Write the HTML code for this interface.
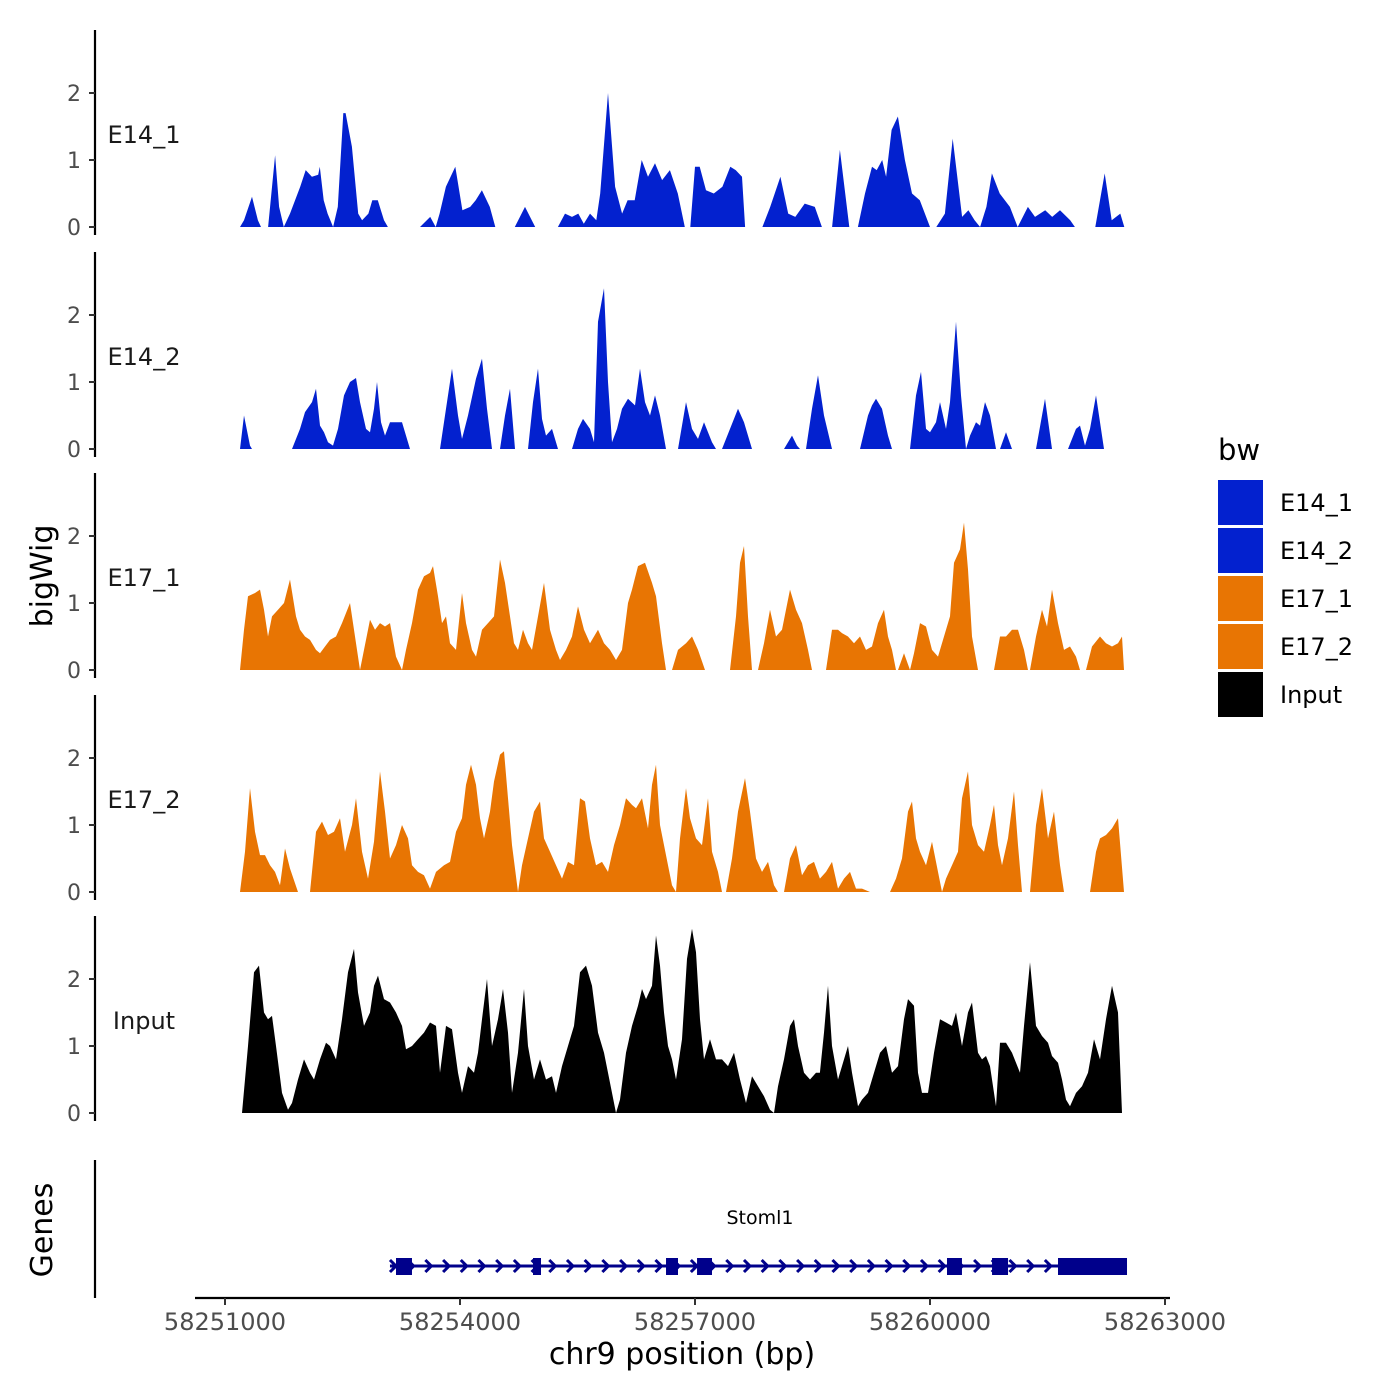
<!DOCTYPE html>
<html><head><meta charset="utf-8"><style>
html,body{margin:0;padding:0;background:#fff;}
svg{display:block;font-family:"DejaVu Sans","Liberation Sans",sans-serif;}
</style></head><body>
<svg id="chart" width="1400" height="1400" viewBox="0 0 1400 1400" xmlns="http://www.w3.org/2000/svg"></svg>
<script>
const chromStart = 58251000;
const xTicks = [58251000, 58254000, 58257000, 58260000, 58263000];
const yTicks = [0, 1, 2];
const trackNames = ["E14_1", "E14_2", "E17_1", "E17_2", "Input"];
const trackGroup = ["E14", "E14", "E17", "E17", "Input"];

const e14_1Pos = [191,243,345,420,460,550,640,690,750,830,960,1030,1110,1190,1210,1260,1310,1380,1440,1510,1540,1620,1700,1750,1830,1880,1950,2030,2080,2490,2620,2690,2740,2820,2940,3030,3130,3200,3280,3380,3450,3700,3830,3960,4250,4340,4430,4510,4580,4660,4740,4790,4890,4980,5070,5140,5230,5320,5400,5490,5580,5680,5780,5870,5940,6000,6060,6140,6240,6350,6450,6520,6600,6640,6860,6960,7090,7190,7280,7400,7530,7620,7750,7850,7970,8080,8170,8260,8320,8390,8440,8510,8590,8680,8770,8870,9000,9080,9190,9290,9410,9490,9570,9640,9720,9790,9890,10020,10120,10250,10340,10470,10560,10660,10790,10850,11110,11230,11320,11430,11480];
const e14_1Val = [0,0.1,0.45,0.1,0,0,1.07,0.3,0,0.2,0.6,0.85,0.75,0.78,0.9,0.4,0.2,0,0.3,1.7,1.7,1.2,0.2,0.1,0.2,0.4,0.4,0.1,0,0,0.15,0,0.2,0.6,0.9,0.25,0.3,0.4,0.55,0.3,0,0,0.3,0,0,0.2,0.15,0.2,0.05,0.2,0.1,0.5,2.0,0.6,0.2,0.4,0.4,1.0,0.75,0.95,0.7,0.85,0.5,0,0,0.9,0.9,0.55,0.5,0.6,0.9,0.85,0.75,0,0,0.3,0.75,0.2,0.15,0.35,0.3,0,0,1.15,0,0,0.5,0.9,0.85,1.0,0.75,1.45,1.65,1.0,0.5,0.4,0,0,0.2,1.32,0.15,0.25,0.1,0,0.3,0.8,0.5,0.3,0,0.3,0.15,0.25,0.15,0.25,0.1,0,0,0.8,0.1,0.2,0];

const e14_2Pos = [191,243,319,345,855,957,1021,1111,1162,1213,1264,1315,1379,1443,1519,1596,1672,1723,1800,1851,1902,1940,1991,2043,2106,2196,2260,2362,2745,2821,2898,2974,3026,3102,3204,3281,3345,3409,3511,3574,3638,3702,3868,3932,3996,4047,4098,4174,4251,4430,4506,4570,4660,4711,4762,4838,4889,4940,5004,5068,5145,5234,5298,5362,5426,5489,5553,5630,5783,5885,5962,6038,6115,6217,6268,6345,6447,6549,6626,6728,7136,7238,7302,7340,7417,7494,7570,7647,7749,8106,8209,8260,8311,8387,8464,8515,8745,8821,8885,8949,9000,9077,9128,9204,9255,9332,9396,9460,9511,9587,9638,9702,9766,9843,9894,9970,10047,10353,10468,10558,10762,10864,10915,10979,11043,11119,11221];
const e14_2Val = [0,0.5,0.05,0,0,0.3,0.55,0.7,0.9,0.35,0.25,0.1,0.05,0.3,0.8,1.0,1.06,0.7,0.3,0.25,0.6,1.0,0.4,0.2,0.4,0.4,0.4,0,0,0.6,1.2,0.5,0.15,0.5,1.05,1.35,0.6,0,0,0.5,0.9,0,0,0.7,1.2,0.45,0.2,0.3,0,0,0.3,0.45,0.3,0.1,1.9,2.4,1.0,0.1,0.3,0.6,0.75,0.65,1.2,0.7,0.5,0.8,0.5,0,0,0.7,0.3,0.15,0.4,0.1,0,0,0.3,0.6,0.4,0,0,0.2,0.05,0,0,0.6,1.1,0.5,0,0,0.5,0.65,0.75,0.6,0.2,0,0,0.8,1.15,0.3,0.25,0.4,0.7,0.3,0.7,1.9,0.8,0,0.2,0.4,0.35,0.7,0.5,0,0,0.25,0,0,0.75,0,0,0.3,0.35,0.05,0.3,0.8,0];

const e17_1Pos = [191,243,294,383,447,498,549,600,677,753,830,906,957,1021,1085,1162,1213,1277,1340,1417,1494,1596,1660,1723,1774,1851,1915,1979,2043,2106,2183,2260,2311,2387,2464,2540,2617,2655,2719,2770,2821,2872,2949,3026,3077,3153,3204,3281,3357,3434,3511,3574,3638,3689,3740,3804,3868,3919,3996,4072,4149,4226,4277,4353,4430,4506,4583,4660,4762,4838,4915,4992,5068,5145,5196,5272,5362,5451,5502,5579,5630,5706,5783,5885,5962,6038,6128,6447,6523,6574,6626,6677,6728,6804,6881,6957,7034,7111,7213,7289,7366,7443,7494,7672,7749,7826,7877,7953,8030,8106,8183,8260,8336,8413,8464,8515,8566,8592,8668,8745,8796,8872,8949,9026,9102,9179,9255,9306,9383,9434,9485,9536,9613,9817,9894,9970,10047,10123,10200,10251,10277,10353,10430,10494,10558,10634,10711,10787,10864,10915,10992,11068,11170,11247,11323,11400,11451,11477];
const e17_1Val = [0,0.6,1.1,1.15,1.2,0.9,0.5,0.8,0.9,1.0,1.35,0.8,0.6,0.5,0.45,0.3,0.25,0.35,0.45,0.5,0.7,1.0,0.5,0,0.3,0.75,0.6,0.7,0.65,0.7,0.2,0,0.3,0.7,1.2,1.4,1.45,1.55,1.1,0.7,0.8,0.4,0.3,1.15,0.7,0.3,0.2,0.6,0.7,0.8,1.65,1.3,0.8,0.4,0.3,0.6,0.4,0.3,0.8,1.3,0.6,0.3,0.15,0.3,0.5,0.95,0.6,0.4,0.6,0.4,0.3,0.15,0.3,1.0,1.2,1.55,1.6,1.3,1.1,0.4,0,0,0.3,0.4,0.5,0.3,0,0,0.8,1.6,1.85,0.8,0,0,0.4,0.9,0.5,0.6,1.2,0.9,0.7,0.3,0,0,0.6,0.6,0.55,0.5,0.4,0.5,0.3,0.35,0.7,0.9,0.5,0.3,0,0,0.25,0,0.25,0.7,0.65,0.3,0.2,0.5,0.8,1.6,1.8,2.2,1.5,0.5,0,0,0.5,0.5,0.6,0.6,0.3,0,0,0.5,0.9,0.65,1.2,0.7,0.3,0.35,0.2,0,0,0.35,0.5,0.4,0.35,0.4,0.5,0];

const e17_2Pos = [191,255,319,383,447,511,574,638,702,766,830,932,1085,1162,1238,1315,1391,1468,1532,1621,1672,1749,1826,1902,1979,2043,2106,2183,2260,2336,2387,2464,2540,2617,2694,2796,2872,2949,3026,3077,3140,3204,3255,3306,3383,3434,3511,3562,3613,3664,3740,3791,3868,3945,4021,4072,4149,4226,4302,4379,4455,4532,4596,4660,4736,4813,4889,4966,5043,5119,5196,5247,5323,5400,5451,5502,5553,5604,5655,5706,5757,5809,5885,5936,6013,6089,6166,6217,6294,6345,6396,6472,6549,6638,6702,6779,6855,6932,7008,7060,7136,7213,7289,7366,7443,7519,7595,7672,7749,7826,7902,7979,8055,8132,8234,8489,8566,8643,8719,8770,8821,8872,8949,9026,9102,9153,9204,9281,9357,9408,9485,9536,9613,9689,9766,9817,9868,9919,9996,10072,10123,10174,10277,10353,10430,10506,10583,10660,10711,11043,11119,11170,11247,11323,11400,11477];
const e17_2Val = [0,0.6,1.55,0.9,0.55,0.55,0.4,0.3,0.1,0.65,0.35,0,0,0.9,1.05,0.85,0.9,1.1,0.6,1.0,1.4,0.6,0.2,0.75,1.8,1.2,0.5,0.7,1.0,0.8,0.4,0.3,0.25,0.05,0.3,0.4,0.45,0.9,1.1,1.6,1.9,1.6,1.1,0.8,1.2,1.65,2.05,2.1,1.4,0.7,0,0.4,0.8,1.2,1.35,0.8,0.6,0.4,0.2,0.45,0.4,1.4,1.35,0.8,0.4,0.45,0.3,0.7,1.0,1.4,1.3,1.25,1.4,0.95,1.6,1.9,1.0,0.7,0.4,0.1,0,0.8,1.55,1.1,0.8,0.7,1.4,0.6,0.3,0,0,0.5,1.2,1.7,1.2,0.5,0.3,0.45,0.1,0,0,0.5,0.7,0.25,0.4,0.45,0.2,0.3,0.45,0.05,0.2,0.3,0.05,0.05,0,0,0.2,0.5,1.2,1.35,0.8,0.6,0.4,0.75,0.3,0,0.2,0.4,0.6,1.4,1.8,1.0,0.7,0.6,1.0,1.3,0.7,0.4,0.8,1.5,0.7,0,0,1.0,1.55,0.8,1.2,0.4,0,0,0.6,0.8,0.85,0.95,1.1,0];

const inputPos = [217,294,370,434,498,549,600,651,728,804,855,932,1009,1085,1136,1213,1289,1340,1417,1494,1570,1647,1698,1774,1851,1902,1953,2030,2106,2183,2260,2311,2387,2464,2540,2617,2694,2745,2821,2898,2974,3026,3102,3179,3230,3281,3345,3409,3485,3549,3613,3664,3740,3817,3868,3945,4021,4098,4174,4226,4302,4404,4455,4532,4609,4685,4762,4838,4889,4940,4992,5043,5119,5196,5272,5323,5374,5451,5502,5553,5604,5655,5706,5757,5834,5898,5962,6013,6064,6115,6192,6268,6345,6421,6498,6574,6651,6728,6804,6881,6957,7008,7060,7136,7213,7264,7315,7391,7468,7545,7595,7647,7698,7749,7826,7902,7953,8004,8081,8132,8209,8285,8362,8438,8515,8592,8668,8719,8796,8847,8898,8974,9051,9128,9204,9281,9332,9408,9485,9536,9613,9664,9715,9766,9843,9894,9970,10047,10149,10200,10277,10353,10430,10506,10558,10634,10685,10736,10787,10864,10941,11017,11094,11170,11247,11323,11400,11451];
const inputVal = [0,1.0,2.1,2.2,1.5,1.4,1.45,1.0,0.3,0.05,0.15,0.5,0.8,0.6,0.5,0.8,1.05,1.0,0.8,1.4,2.1,2.45,1.8,1.3,1.5,1.9,2.05,1.7,1.65,1.5,1.3,0.95,1.0,1.1,1.2,1.35,1.3,0.6,1.3,1.25,0.6,0.3,0.7,0.6,0.9,1.4,2.0,1.0,1.4,1.85,1.2,0.3,0.9,1.85,1.0,0.5,0.8,0.5,0.55,0.3,0.7,1.1,1.3,2.1,2.2,1.9,1.2,0.9,0.6,0.3,0,0.2,0.9,1.3,1.6,1.85,1.7,1.9,2.65,2.2,1.5,1.0,0.8,0.5,1.1,2.3,2.75,2.4,1.4,0.8,1.1,0.8,0.8,0.7,0.9,0.5,0.15,0.55,0.4,0.25,0.05,0,0.4,0.8,1.3,1.4,1.0,0.6,0.5,0.6,0.6,1.2,1.9,1.0,0.5,0.8,1.0,0.6,0.1,0.2,0.3,0.6,0.9,1.0,0.6,0.7,1.4,1.7,1.6,0.6,0.3,0.3,0.9,1.4,1.35,1.3,1.5,1.0,1.5,1.65,0.9,0.8,0.85,0.7,0.1,1.05,1.05,0.9,0.6,1.3,2.25,1.3,1.15,1.05,0.85,0.75,0.5,0.2,0.1,0.3,0.4,0.6,1.1,0.8,1.4,1.9,1.5,0];

const geneName = "Stoml1";
const geneStart = 58253106;
const geneEnd = 58262515;
const exonStarts = [58253183, 58254932, 58256630, 58257026, 58260217, 58260792, 58261634];
const exonEnds = [58253387, 58255034, 58256783, 58257217, 58260408, 58260996, 58262515];

const legendLabels = ["E14_1", "E14_2", "E17_1", "E17_2", "Input"];

const svg = document.getElementById('chart');
const NS = "http://www.w3.org/2000/svg";
const colorMap = {E14: "#0321CF", E17: "#E87503", Input: "#000000"};
const X0 = 225, X1 = 1165;
function xScale(bp){ return X0 + (bp - xTicks[0]) / (xTicks[xTicks.length-1] - xTicks[0]) * (X1 - X0); }
const bases = [227, 449, 670, 892, 1113];
const unitPx = 67;
function yScale(i, v){ return bases[i] - v * unitPx; }

function mk(tag, attrs, parent){
  const el = document.createElementNS(NS, tag);
  for (const k in attrs) el.setAttribute(k, attrs[k]);
  (parent || svg).appendChild(el);
  return el;
}

const posArrays = [e14_1Pos, e14_2Pos, e17_1Pos, e17_2Pos, inputPos];
const valArrays = [e14_1Val, e14_2Val, e17_1Val, e17_2Val, inputVal];

for (let i = 0; i < 5; i++) {
  const g = mk('g', {});
  
  
  const axis = mk('line', {x1:95, x2:95, y1:bases[i]-197, y2:bases[i]+8, stroke:'#000', 'stroke-width':2.2}, g);
  
  
  yTicks.forEach(t => {
    const y = yScale(i, t);
    const tk = mk('line', {x1:89, x2:95, y1:y, y2:y, stroke:'#333', 'stroke-width':2}, g);
    
    
    const tl = mk('text', {x:81, y:y+8, 'text-anchor':'end', 'font-size':22, fill:'#4d4d4d'}, g);
    tl.textContent = t;
    
    
  });
  const lab = mk('text', {x:144, y:bases[i]-84, 'text-anchor':'middle', 'font-size':24, fill:'#1a1a1a'}, g);
  lab.textContent = trackNames[i];
  
  
  const pos = posArrays[i], val = valArrays[i];
  let d = 'M' + xScale(chromStart + pos[0]) + ',' + bases[i];
  for (let k = 0; k < pos.length; k++) d += 'L' + xScale(chromStart + pos[k]).toFixed(1) + ',' + yScale(i, val[k]).toFixed(1);
  d += 'L' + xScale(chromStart + pos[pos.length-1]) + ',' + bases[i] + 'Z';
  const area = mk('path', {d:d, fill:colorMap[trackGroup[i]]}, g);
  
  
}

const yt = mk('text', {x:0, y:0, transform:'translate(52,576) rotate(-90)', 'text-anchor':'middle', 'font-size':30, fill:'#000'});
yt.textContent = 'bigWig';



const gg = mk('g', {});


const ga = mk('line', {x1:95, x2:95, y1:1160, y2:1298, stroke:'#000', 'stroke-width':2.2}, gg);


const gt = mk('text', {x:0, y:0, transform:'translate(52,1230) rotate(-90)', 'text-anchor':'middle', 'font-size':30, fill:'#000'}, gg);
gt.textContent = 'Genes';


const gx0 = xScale(geneStart), gx1 = xScale(geneEnd);
const gl = mk('line', {x1:gx0, x2:gx1, y1:1266, y2:1266, stroke:'#00008B', 'stroke-width':3}, gg);


for (let ax = gx0 + 3; ax < gx1 - 4; ax += 17.7) {
  const ar = mk('path', {d:`M${ax-3},${1260}L${ax+3},${1266}L${ax-3},${1272}`, fill:'none', stroke:'#00008B', 'stroke-width':3}, gg);
  
  
}
for (let k = 0; k < exonStarts.length; k++) {
  const a = xScale(exonStarts[k]), b = xScale(exonEnds[k]);
  const ex = mk('rect', {x:a, y:1258, width:b-a, height:17, fill:'#00008B'}, gg);
  
  
}
const gn = mk('text', {x:760, y:1224, 'text-anchor':'middle', 'font-size':19, fill:'#000'}, gg);
gn.textContent = geneName;



const xa = mk('line', {x1:195, x2:1170, y1:1298, y2:1298, stroke:'#000', 'stroke-width':2.2});


xTicks.forEach(t => {
  const x = xScale(t);
  const tk = mk('line', {x1:x, x2:x, y1:1298, y2:1305, stroke:'#333', 'stroke-width':2});
  
  
  const tl = mk('text', {x:x, y:1330, 'text-anchor':'middle', 'font-size':24, fill:'#4d4d4d'});
  tl.textContent = t;
  
  
});
const xt = mk('text', {x:682, y:1364, 'text-anchor':'middle', 'font-size':30, fill:'#000'});
xt.textContent = 'chr9 position (bp)';



const lg = mk('g', {});


const lt = mk('text', {x:1218, y:460, 'font-size':29, fill:'#000'}, lg);
lt.textContent = 'bw';


legendLabels.forEach((l, k) => {
  const y = 480 + k * 48;
  const e = mk('g', {}, lg);
  
  
  const grp = l.startsWith('E14') ? 'E14' : (l.startsWith('E17') ? 'E17' : 'Input');
  const r = mk('rect', {x:1218, y:y, width:45, height:45, fill:colorMap[grp]}, e);
  
  
  const t = mk('text', {x:1280, y:y+31, 'font-size':24, fill:'#000'}, e);
  t.textContent = l;
  
  
});
</script>
</body></html>
